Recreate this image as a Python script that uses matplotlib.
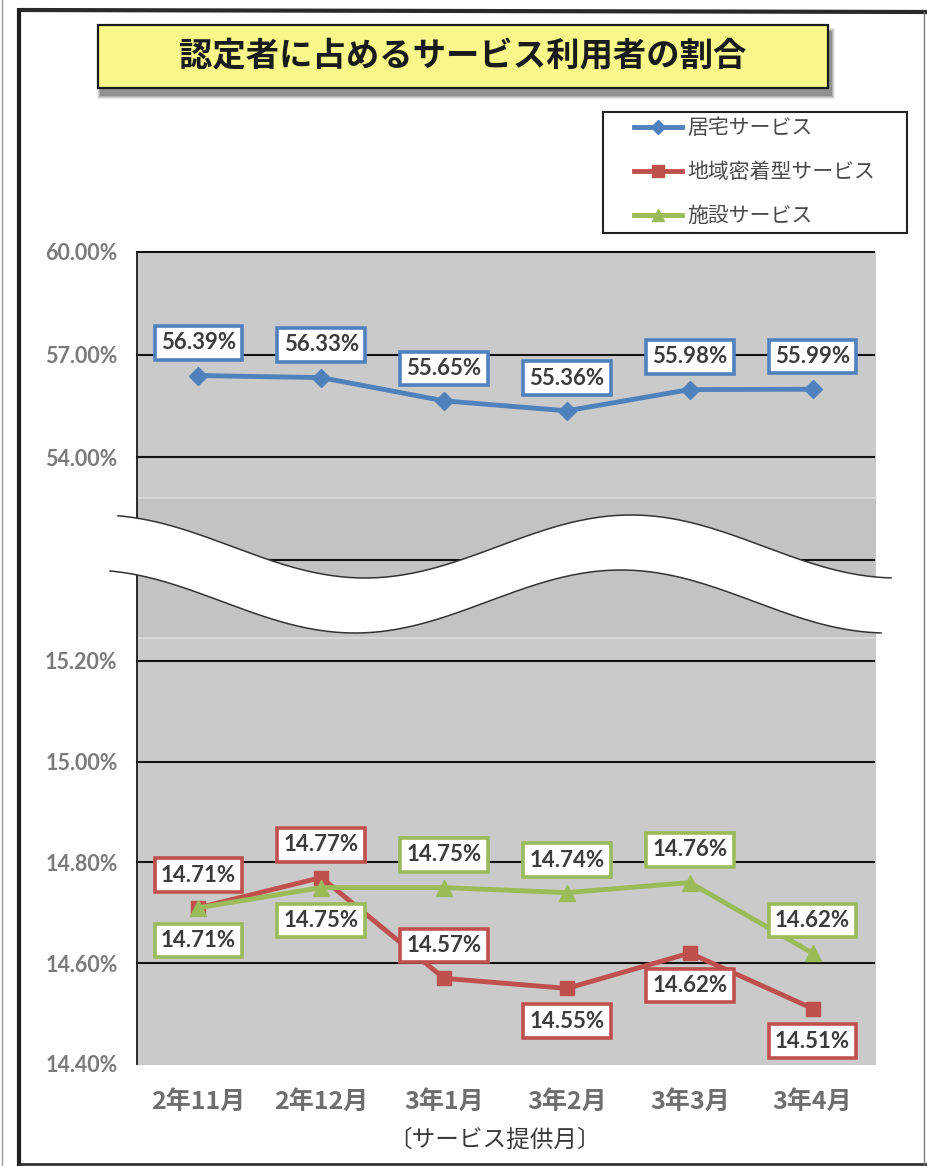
import numpy as np
import matplotlib
matplotlib.use('Agg')
import matplotlib.pyplot as plt
from matplotlib.patches import Rectangle, Polygon
from matplotlib.font_manager import FontProperties

# ---------------- data ----------------
months = ['2年11月', '2年12月', '3年1月', '3年2月', '3年3月', '3年4月']
series_names = ['居宅サービス', '地域密着型サービス', '施設サービス']
kyotaku = [56.39, 56.33, 55.65, 55.36, 55.98, 55.99]
chiiki = [14.71, 14.77, 14.57, 14.55, 14.62, 14.51]
shisetsu = [14.71, 14.75, 14.75, 14.74, 14.76, 14.62]
top_ticks = [54.0, 57.0, 60.0]
bottom_ticks = [14.4, 14.6, 14.8, 15.0, 15.2]
top_grid = [51.0, 54.0, 57.0, 60.0]
bottom_grid = [14.6, 14.8, 15.0, 15.2]
title = '認定者に占めるサービス利用者の割合'
xlabel = '〔サービス提供月〕'

# label placement (style)
kyotaku_pos = ['above'] * 6
chiiki_pos = ['above', 'above', 'above', 'below', 'below', 'below']
shisetsu_pos = ['below', 'below', 'above', 'above', 'above', 'above']

BLUE = '#4F81BD'
RED = '#C0504D'
GREEN = '#9BBB59'
GRAY_BG = '#cacaca'
GRAY_BAND = '#c3c3c3'

JP = ['Noto Sans CJK JP', 'DejaVu Sans']
NUM = ['Lato', 'DejaVu Sans']

W, H = 927, 1166
fig = plt.figure(figsize=(W / 100, H / 100), dpi=100)
fig.patch.set_facecolor('white')


def rect(l, t, r, b):
    return [l / W, 1 - b / H, (r - l) / W, (b - t) / H]


# background layer (pixel coordinates)
bg = fig.add_axes([0, 0, 1, 1], zorder=0)
bg.set_xlim(0, W)
bg.set_ylim(H, 0)
bg.axis('off')
PL, PR, PT, PB = 137, 876, 252, 1065
bg.add_patch(Rectangle((PL, PT), PR - PL, PB - PT, facecolor=GRAY_BG, edgecolor='none'))
bg.add_patch(Rectangle((PL, 498), PR - PL, 139, facecolor=GRAY_BAND, edgecolor='none'))
bg.plot([PL, PR], [497.5, 497.5], color='#dcdcdc', lw=1.2)
bg.plot([PL, PR], [637.5, 637.5], color='#dcdcdc', lw=1.2)

# data axes
ax_top = fig.add_axes(rect(PL, PT, 874, 560), zorder=5)
ax_bot = fig.add_axes(rect(PL, 560, 874, 1064), zorder=5)

x = np.arange(len(months))
for ax in (ax_top, ax_bot):
    ax.set_facecolor('none')
    ax.set_xlim(-0.5, len(months) - 0.5)
    for s in ('top', 'right', 'bottom'):
        ax.spines[s].set_visible(False)
    ax.spines['left'].set_color('#1a1a1a')
    ax.spines['left'].set_linewidth(1.3)
    ax.tick_params(length=0)

ax_top.set_ylim(51, 60)
ax_bot.set_ylim(14.4, 15.4)
for g in top_grid:
    ax_top.axhline(g, color='#111111', lw=1.5, clip_on=False, zorder=1)
for g in bottom_grid:
    ax_bot.axhline(g, color='#111111', lw=1.5, clip_on=False, zorder=1)

tick_font = dict(family=NUM, weight='bold', size=15.5)
ax_top.set_yticks(top_ticks)
ax_top.set_yticklabels([f'{v:.2f}%' for v in top_ticks], color='#7a7a7a', fontproperties=FontProperties(**tick_font))
ax_bot.set_yticks(bottom_ticks)
ax_bot.set_yticklabels([f'{v:.2f}%' for v in bottom_ticks], color='#7a7a7a', fontproperties=FontProperties(**tick_font))
ax_top.tick_params(axis='y', pad=14)
ax_bot.tick_params(axis='y', pad=14)
ax_top.set_xticks([])
ax_bot.set_xticks(x)
ax_bot.set_xticklabels(months, color='#6e6e6e',
                       fontproperties=FontProperties(family=JP, weight='bold', size=18))
ax_bot.tick_params(axis='x', pad=19)

l1, = ax_top.plot(x, kyotaku, color=BLUE, lw=3.5, marker='D', ms=9, zorder=3)
l2, = ax_bot.plot(x, chiiki, color=RED, lw=3.5, marker='s', ms=10.5, zorder=3)
l3, = ax_bot.plot(x, shisetsu, color=GREEN, lw=3.5, marker='^', ms=11, zorder=3)

lab_font = FontProperties(family=NUM, weight='bold', size=16)


def add_labels(ax, vals, poses, col):
    for xi, v, p in zip(x, vals, poses):
        dy = 23.5 if p == 'above' else -23.5
        ax.annotate(f'{v:.2f}%', (xi, v), xytext=(0, dy), textcoords='offset points',
                    ha='center', va='center', color='#3c3c3c', fontproperties=lab_font,
                    bbox=dict(boxstyle='square,pad=0.28', fc='white', ec=col, lw=2.6),
                    zorder=6)


add_labels(ax_top, kyotaku, kyotaku_pos, BLUE)
add_labels(ax_bot, chiiki, chiiki_pos, RED)
add_labels(ax_bot, shisetsu, shisetsu_pos, GREEN)

# legend (real legend, frame drawn separately)
leg = ax_top.legend([l1, l2, l3], series_names, loc='center left',
                    bbox_to_anchor=(634 / W, 1 - 172 / H), bbox_transform=fig.transFigure,
                    frameon=False, prop=FontProperties(family=JP, size=15),
                    labelcolor='#4a4a4a', handlelength=2.3, handletextpad=0.25,
                    labelspacing=1.05, borderpad=0, borderaxespad=0, markerscale=0.8)

# foreground layer
fg = fig.add_axes([0, 0, 1, 1], zorder=10)
fg.set_xlim(0, W)
fg.set_ylim(H, 0)
fg.axis('off')

# legend frame
fg.add_patch(Rectangle((603, 112), 304, 121, facecolor='none', edgecolor='#222222', lw=1.5))

# wave break
def y_up(xx):
    return 546.5 - 31.5 * np.cos(2 * np.pi * (xx - 631) / 532)

xu = np.linspace(118, 891, 300)
xl = np.linspace(110, 881, 300)
yu = y_up(xu)
yl = y_up(xl + 10) + 55
poly = np.vstack([np.column_stack([xu, yu]), np.column_stack([xl[::-1], yl[::-1]])])
fg.add_patch(Polygon(poly, closed=True, facecolor='white', edgecolor='none'))
fg.plot(xu, yu, color='#333333', lw=1.1)
fg.plot(xl, yl, color='#333333', lw=1.1)

# title box with shadow
for i, a in enumerate([0.10, 0.14, 0.2, 0.3]):
    g = 4 - i
    fg.add_patch(Rectangle((98 + 3 - g, 25 + 7 - g), 730 + 2 * g, 63 + 2 * g,
                           facecolor='#404040', edgecolor='none', alpha=a))
fg.add_patch(Rectangle((98, 25), 730, 63, facecolor='#F8F88A', edgecolor='#1a1a1a', lw=1.6))
fg.text(463, 57, title, ha='center', va='center', color='#1a1a1a',
        fontproperties=FontProperties(family=JP, weight='bold', size=24))

# x axis title
fg.text(494, 1140, xlabel, ha='center', va='center', color='#3a3a3a',
        fontproperties=FontProperties(family=JP, size=17))

# page frame
fg.plot([19, 19], [8, 1166], color='#1e1e1e', lw=3.0, solid_capstyle='butt')
fg.plot([19, 927], [10, 12], color='#2a2a2a', lw=3.0, solid_capstyle='butt')
fg.plot([19, 927], [1164, 1164], color='#333333', lw=2.0)
fg.plot([924, 924], [12, 1166], color='#777777', lw=1.0)
fg.plot([2, 2], [0, 1166], color='#999999', lw=1.0)

fig.savefig('out.png', dpi=100, facecolor='white')
